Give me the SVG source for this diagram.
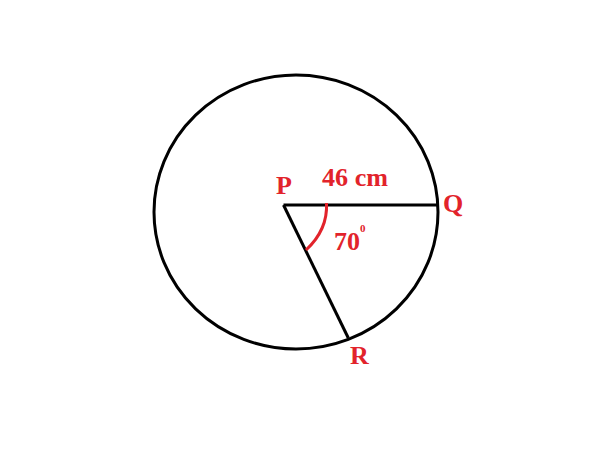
<svg xmlns="http://www.w3.org/2000/svg" width="600" height="450" viewBox="0 0 600 450">
<style>
.k{fill:none;stroke:#000;stroke-width:3}
.lbl{font-family:"Liberation Serif","Times New Roman",serif;font-weight:bold;fill:#e2232b;font-size:26px}
</style>
<rect width="600" height="450" fill="#fff"/>
<g id="circle"><ellipse class="k" cx="296" cy="212" rx="142" ry="137"/></g>
<g id="connectors">
<path class="k" d="M283.5 205 H437"/>
<path class="k" d="M283.5 205 L348.3 338"/>
<path d="M326.5 203 C327.5 222 319 238 306 250" fill="none" stroke="#e2232b" stroke-width="3"/>
</g>
<g id="P"><text class="lbl" x="276" y="194">P</text></g>
<g id="Q"><text class="lbl" x="443" y="212">Q</text></g>
<g id="R"><text class="lbl" x="350" y="364">R</text></g>
<g id="len"><text class="lbl" x="322" y="186" textLength="66" lengthAdjust="spacingAndGlyphs">46 cm</text></g>
<g id="ang"><text class="lbl" x="334" y="250">70</text><text class="lbl" x="360" y="232" style="font-size:11px">0</text></g>
</svg>
